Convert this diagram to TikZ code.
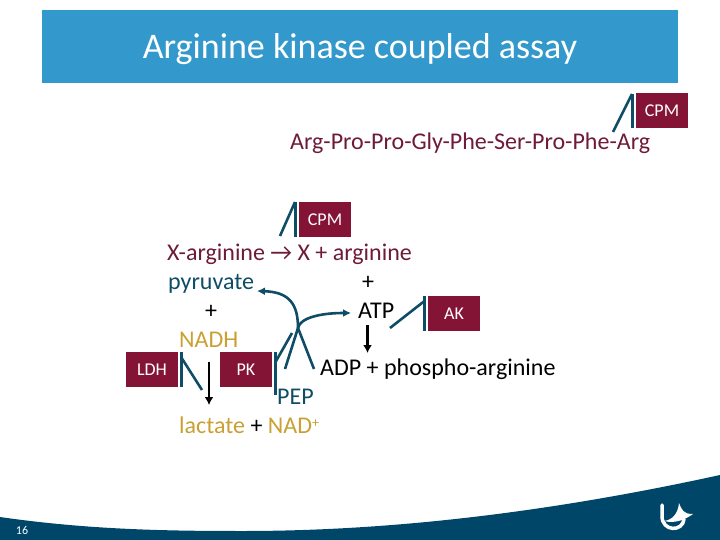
\documentclass[tikz,border=0pt]{standalone}
\usepackage{fontspec}
\setmainfont{Carlito}
\usepackage{tikz}
\usetikzlibrary{positioning,arrows.meta}
\definecolor{titleblue}{HTML}{3399CC}
\definecolor{wine}{HTML}{841436}
\definecolor{wavedark}{HTML}{004669}
\definecolor{tealdark}{HTML}{0F4C66}
\definecolor{golden}{HTML}{C9A032}
\definecolor{peptide}{HTML}{6E1A3A}
\begin{document}
\begin{tikzpicture}[
  x=1pt, y=-1pt,
  enzyme/.style={fill=wine, text=white, minimum width=52pt, minimum height=35pt, inner sep=0pt, font=\fontsize{18}{21}\selectfont},
  chem/.style={anchor=base west, inner sep=0pt, font=\fontsize{24}{28}\selectfont},
  bar/.style={draw=tealdark, line width=3pt},
  react/.style={draw=tealdark, line width=2.6pt},
  bendarr/.style={draw=tealdark, line width=2.6pt, -{Latex[length=8pt,width=8pt]}},
  arr/.style={-{Latex[length=8pt,width=9pt]}, line width=2.4pt}]
\useasboundingbox (0,0) rectangle (720,540);
% band and footer
\node[fill=titleblue, minimum width=636pt, minimum height=73pt, inner sep=0pt, anchor=north west] (band) at (42,10) {};
\node[text=white, font=\fontsize{36}{42}\selectfont] (title) at (360,49) {Arginine kinase coupled assay};
\fill[wavedark] (0,517) .. controls (90,530) and (170,531) .. (243,531) .. controls (400,531) and (560,510) .. (720,475) -- (720,540) -- (0,540) -- cycle;
\node[text=white, font=\fontsize{12}{14}\selectfont] (page) at (22,530) {16};
% logo
\draw[white, line width=3.5pt, line cap=round] (662,505) -- (662,516) .. controls (662,532) and (683,532) .. (684,519);
\fill[white] (664,521) .. controls (672,520) and (678,514) .. (679,503) .. controls (682,510) and (683,514) .. (693,514) .. controls (686,519) and (676,524) .. (664,521) -- cycle;
% enzymes
\node[enzyme] (cpmtop) at (662,111) {CPM};
\node[enzyme] (cpmmid) at (325,219.5) {CPM};
\node[enzyme] (ak) at (454,313.5) {AK};
\node[enzyme] (ldh) at (152,369.5) {LDH};
\node[enzyme] (pk) at (246,369.5) {PK};
% texts
\node[chem, text=peptide] (peptide) at (290,150) {Arg-Pro-Pro-Gly-Phe-Ser-Pro-Phe-Arg};
\node[chem, text=peptide] (xarg) at (167,260) {X-arginine → X + arginine};
\node[chem, text=tealdark] (pyr) at (168,289) {pyruvate};
\node[chem] (plusa) at (205,318) {+};
\node[chem, text=golden] (nadh) at (179,347) {NADH};
\node[chem] (plusb) at (362,289) {+};
\node[chem] (atp) at (358,318) {ATP};
\node[chem] (adp) at (320,375) {ADP + phospho-arginine};
\node[chem, text=tealdark] (pep) at (277,404) {PEP};
\node[chem] (lac) at (179,433) {\textcolor{golden}{lactate} + \textcolor{golden}{NAD\raisebox{6pt}{\fontsize{14}{16}\selectfont +}}};
% inhibitor lines
\coordinate (cpmtopa) at (632,94); \coordinate (cpmtopb) at (632,128); \coordinate (cpmtopc) at (613,132);
\coordinate (cpmmida) at (295,202); \coordinate (cpmmidb) at (295,237); \coordinate (cpmmidc) at (280,236);
\coordinate (aka) at (424.5,296); \coordinate (akb) at (424.5,331); \coordinate (akc) at (390,328); \coordinate (akd) at (424.5,301);
\coordinate (ldha) at (181,352); \coordinate (ldhb) at (181,387); \coordinate (ldhc) at (202,390); \coordinate (ldhd) at (181,357);
\coordinate (pka) at (275.5,352); \coordinate (pkb) at (275.5,395); \coordinate (pkc) at (292,333); \coordinate (pkd) at (275.5,362);
\coordinate (pepin) at (285,369); \coordinate (adpout) at (314,369);
\coordinate (midcross) at (298,328); \coordinate (pyrtip) at (257,291); \coordinate (atptip) at (351,313);
\draw[bar] (cpmtopa) -- (cpmtopb); \draw[react] (cpmtopa) -- (cpmtopc);
\draw[bar] (cpmmida) -- (cpmmidb); \draw[react] (cpmmida) -- (cpmmidc);
\draw[bar] (aka) -- (akb); \draw[react] (akd) -- (akc);
\draw[bar] (ldha) -- (ldhb); \draw[react] (ldhd) -- (ldhc);
\draw[bar] (pka) -- (pkb); \draw[react] (pkd) -- (pkc);
% curved arrows
\draw[bendarr] (adpout) -- (midcross) .. controls (298,305) and (290,292) .. (pyrtip);
\draw[bendarr] (pepin) -- (midcross) .. controls (300,318) and (320,313) .. (atptip);
% reaction arrows
\coordinate (lacin) at (209,362); \coordinate (lacout) at (209,405);
\coordinate (atpout) at (367.5,325); \coordinate (adpin) at (367.5,353);
\draw[arr] (lacin) -- (lacout);
\draw[arr] (atpout) -- (adpin);
\end{tikzpicture}
\end{document}
